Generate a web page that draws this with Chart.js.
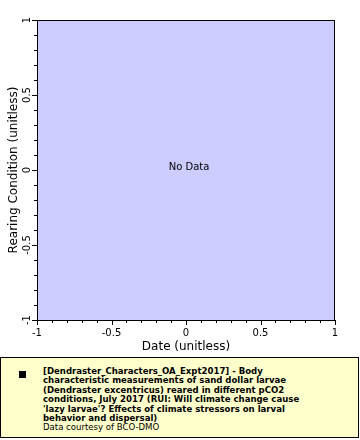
<!DOCTYPE html>
<html><head><meta charset="utf-8">
<script src="https://cdn.jsdelivr.net/npm/chart.js@4/dist/chart.umd.min.js"></script>
<style>
html,body{margin:0;padding:0;background:#fff;}
#wrap{position:relative;width:360px;height:440px;}
#legend{position:absolute;left:0;top:357px;width:357px;height:79px;background:#ffffcc;border:1px solid #000;box-sizing:content-box;}
#legend .mk{position:absolute;left:18px;top:13px;width:7px;height:7px;background:#000;}
#legend .txt{position:absolute;left:42px;top:8px;font-family:"DejaVu Sans Condensed","DejaVu Sans",sans-serif;font-size:9.5px;line-height:9.4px;color:#000;white-space:nowrap;}
#legend b{font-weight:bold;}
</style></head>
<body><div id="wrap"><canvas id="c" width="360" height="440"></canvas>
<div id="legend"><div class="mk"></div><div class="txt"><b>[Dendraster_Characters_OA_Expt2017] - Body<br>characteristic measurements of sand dollar larvae<br>(Dendraster excentricus) reared in different pCO2<br>conditions, July 2017 (RUI: Will climate change cause<br>'lazy larvae'? Effects of climate stressors on larval<br>behavior and dispersal)</b><br>Data courtesy of BCO-DMO</div></div>
</div>
<script>
const xRange = [-1, 1];
const yRange = [-1, 1];
const majorStep = 0.5;
const minorStep = 0.1;
const xTitle = "Date (unitless)";
const yTitle = "Rearing Condition (unitless)";
const emptyText = "No Data";
const seriesData = [];

const fmt = v => (Math.abs(v) < 1e-9 ? "0" : String(Math.round(v * 10) / 10));

const framePlugin = {
  id: 'frame',
  beforeDraw(chart) {
    const {ctx, chartArea: a} = chart;
    ctx.save();
    ctx.fillStyle = '#ccccff';
    ctx.fillRect(a.left, a.top, a.right - a.left, a.bottom - a.top);
    ctx.restore();
  },
  afterDraw(chart) {
    const {ctx, chartArea: a, scales} = chart;
    const xs = scales.x, ys = scales.y;
    ctx.save();
    ctx.strokeStyle = '#000';
    ctx.lineWidth = 1;
    ctx.strokeRect(a.left + 0.5, a.top + 0.5, a.right - a.left - 1, a.bottom - a.top);
    ctx.beginPath();
    const n = Math.round((xRange[1] - xRange[0]) / minorStep);
    for (let i = 0; i <= n; i++) {
      const v = xRange[0] + i * minorStep;
      const major = i % 5 === 0;
      const len = major ? 5 : 3;
      const px = Math.round(xs.getPixelForValue(v)) + 0.5;
      ctx.moveTo(px, a.bottom); ctx.lineTo(px, a.bottom + len);
      const vy = yRange[0] + i * minorStep;
      const py = Math.round(ys.getPixelForValue(vy)) + 0.5;
      ctx.moveTo(a.left, py); ctx.lineTo(a.left - len, py);
    }
    ctx.stroke();
    ctx.fillStyle = '#000';
    ctx.font = '10px "DejaVu Sans", sans-serif';
    ctx.textAlign = 'center';
    ctx.textBaseline = 'middle';
    for (let v = yRange[0]; v <= yRange[1] + 1e-9; v += majorStep) {
      const py = ys.getPixelForValue(v);
      ctx.save();
      ctx.translate(27, py);
      ctx.rotate(-Math.PI / 2);
      ctx.fillText(fmt(v), 0, 0);
      ctx.restore();
    }
    if (seriesData.length === 0) {
      ctx.fillText(emptyText, (a.left + a.right) / 2 + 3, (a.top + a.bottom) / 2 - 3);
    }
    ctx.restore();
  }
};

new Chart(document.getElementById('c'), {
  type: 'scatter',
  data: { datasets: [{ data: seriesData, pointRadius: 3, backgroundColor: '#000' }] },
  options: {
    responsive: false,
    animation: false,
    layout: { padding: { left: 0, top: 20, right: 25, bottom: 82 } },
    plugins: { legend: { display: false }, tooltip: { enabled: false } },
    scales: {
      x: {
        type: 'linear', min: xRange[0], max: xRange[1],
        afterFit: s => { s.height = 38; },
        grid: { display: true, drawOnChartArea: false, drawTicks: true, tickLength: 5, color: 'rgba(0,0,0,0)' },
        border: { display: false },
        ticks: { stepSize: majorStep, autoSkip: false, maxRotation: 0, padding: 2, color: '#000',
                 font: { family: 'DejaVu Sans', size: 10 }, callback: v => fmt(v) },
        title: { display: true, text: xTitle, color: '#000', font: { family: 'DejaVu Sans', size: 12 }, padding: { top: 0, bottom: 4 } }
      },
      y: {
        type: 'linear', min: yRange[0], max: yRange[1],
        afterFit: s => { s.width = 37; },
        grid: { display: false },
        border: { display: false },
        ticks: { display: false, stepSize: majorStep },
        title: { display: true, text: yTitle, color: '#000', font: { family: 'DejaVu Sans', size: 12 }, padding: { top: 7, bottom: 0 } }
      }
    }
  },
  plugins: [framePlugin]
});
</script>
</body></html>
